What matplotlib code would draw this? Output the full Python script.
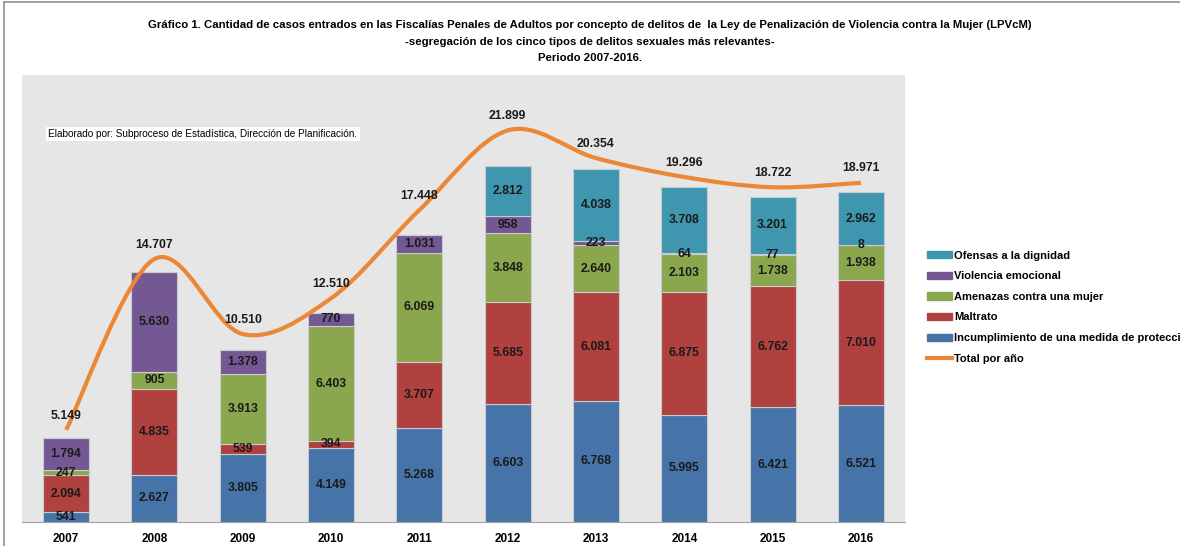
import matplotlib
matplotlib.use("Agg")
import matplotlib.pyplot as plt
from matplotlib.path import Path
from matplotlib.patches import PathPatch, Patch
from matplotlib.lines import Line2D
import numpy as np

years = ["2007", "2008", "2009", "2010", "2011", "2012", "2013", "2014", "2015", "2016"]
incumplimiento = [541, 2627, 3805, 4149, 5268, 6603, 6768, 5995, 6421, 6521]
maltrato = [2094, 4835, 539, 394, 3707, 5685, 6081, 6875, 6762, 7010]
amenazas = [247, 905, 3913, 6403, 6069, 3848, 2640, 2103, 1738, 1938]
violencia = [1794, 5630, 1378, 770, 1031, 958, 223, 64, 77, 8]
ofensas = [0, 0, 0, 0, 0, 2812, 4038, 3708, 3201, 2962]
total = [5149, 14707, 10510, 12510, 17448, 21899, 20354, 19296, 18722, 18971]

series = [
    ("Incumplimiento de una medida de protección", incumplimiento, "#4673A8"),
    ("Maltrato", maltrato, "#B0413E"),
    ("Amenazas contra una mujer", amenazas, "#8BA74E"),
    ("Violencia emocional", violencia, "#735894"),
    ("Ofensas a la dignidad", ofensas, "#3E97AF"),
]
line_color = "#EC8735"


def fmt(v):
    return f"{v:,}".replace(",", ".")


plt.rcParams["font.family"] = ["Liberation Sans", "DejaVu Sans"]

fig = plt.figure(figsize=(11.8, 5.46), dpi=100)
ax = fig.add_axes([0.0186, 0.044, 0.7484, 0.8186])
ax.set_facecolor("#E6E6E6")

x = np.arange(len(years))
bottom = np.zeros(len(years))
for name, vals, col in series:
    vals = np.array(vals)
    ax.bar(x, vals, 0.52, bottom=bottom, color=col, edgecolor="#C8CCD0", linewidth=0.8, zorder=2)
    for xi, b, v in zip(x, bottom, vals):
        if v > 0:
            ax.text(xi, b + v / 2, fmt(v), ha="center", va="center", fontsize=8.8,
                    fontweight="bold", color="#1a1a1a", zorder=4)
    bottom += vals

# smoothed total line (Catmull-Rom style bezier, like Excel)
pts = np.column_stack([x, total]).astype(float)
verts = [tuple(pts[0])]
codes = [Path.MOVETO]
n = len(pts)
for i in range(n - 1):
    p0 = pts[max(i - 1, 0)]
    p1 = pts[i]
    p2 = pts[i + 1]
    p3 = pts[min(i + 2, n - 1)]
    c1 = p1 + (p2 - p0) / 6
    c2 = p2 - (p3 - p1) / 6
    verts += [tuple(c1), tuple(c2), tuple(p2)]
    codes += [Path.CURVE4] * 3
ax.add_patch(PathPatch(Path(verts, codes), facecolor="none", edgecolor=line_color, lw=3, zorder=3))
for xi, t in zip(x, total):
    ax.annotate(fmt(t), (xi, t), xytext=(0, 6), textcoords="offset points", ha="center",
                va="bottom", fontsize=8.8, fontweight="bold", color="#1a1a1a", zorder=4)

ax.set_xlim(-0.5, 9.5)
ax.set_ylim(0, 25000)
ax.set_yticks([])
ax.set_xticks(x)
ax.set_xticklabels(years, fontsize=8.5, fontweight="bold")
ax.tick_params(axis="x", length=0, pad=8)
for s in ["top", "right", "left"]:
    ax.spines[s].set_visible(False)
ax.spines["bottom"].set_color("#A0A0A0")

ax.text(0.03, 0.862, "Elaborado por: Subproceso de Estadística, Dirección de Planificación.",
        transform=ax.transAxes, fontsize=7.2,
        bbox=dict(facecolor="white", edgecolor="none", pad=1.5), zorder=5)

fig.text(0.5, 0.963,
         "Gráfico 1. Cantidad de casos entrados en las Fiscalías Penales de Adultos por concepto de delitos de  la Ley de Penalización de Violencia contra la Mujer (LPVcM)\n"
         "-segregación de los cinco tipos de delitos sexuales más relevantes-\nPeriodo 2007-2016.",
         ha="center", va="top", fontsize=8.2, fontweight="bold", linespacing=1.8)

handles = [Patch(facecolor=c, edgecolor=c) for _, _, c in series[::-1]]
labels = [nm for nm, _, _ in series[::-1]]
handles.append(Line2D([0], [0], color=line_color, lw=3))
labels.append("Total por año")
fig.legend(handles, labels, loc="upper left", bbox_to_anchor=(0.777, 0.559), frameon=False,
           prop={"weight": "bold", "size": 8},
           handlelength=2.3, handleheight=0.6, handletextpad=0.15, labelspacing=0.95)

# chart border lines (top and left)
fig.add_artist(Line2D([0.003, 1], [0.997, 0.997], color="#909090", lw=1.2, transform=fig.transFigure))
fig.add_artist(Line2D([0.003, 0.003], [0, 0.997], color="#909090", lw=1.2, transform=fig.transFigure))

fig.savefig("out.png", dpi=100)
